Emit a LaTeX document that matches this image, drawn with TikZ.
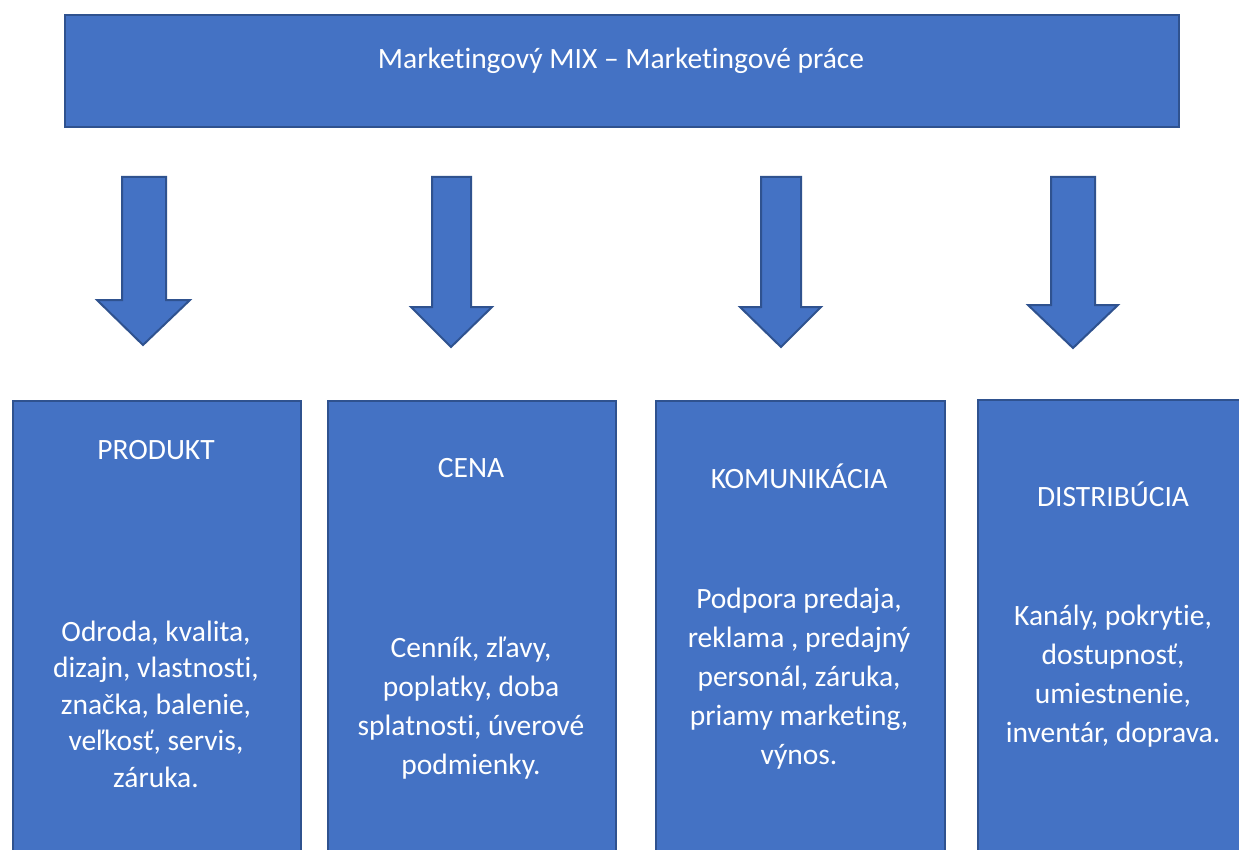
\documentclass[tikz,border=0pt]{standalone}
\usepackage{fontspec}
\setmainfont{Carlito}[Ligatures=NoCommon]
\definecolor{boxfill}{HTML}{4472C4}
\definecolor{boxline}{HTML}{2F528F}
\tikzset{
  blk/.style={fill=boxfill, draw=boxline, line width=2pt},
  lbl/.style={text=white, font=\fontsize{29.5}{39}\selectfont, inner sep=0pt},
  body/.style={lbl, align=center},
}
\begin{document}
\begin{tikzpicture}[x=1pt,y=-1pt]
\clip (0,0) rectangle (1239,850);
\fill[white] (0,0) rectangle (1239,850);
% top box
\node[blk, anchor=north west, minimum width=1114pt, minimum height=112pt, inner sep=0pt] (top) at (64,14) {};
\node[lbl, anchor=base] (toptxt) at (621,69) {Marketingový MIX – Marketingové práce};
% arrows
\draw[blk, line join=miter] (122,177) -- (166,177) -- (166,300) -- (190,300) -- (143,345) -- (97,300) -- (122,300) -- cycle;
\draw[blk, line join=miter] (432,177) -- (471,177) -- (471,307) -- (492,307) -- (451,347) -- (411,307) -- (432,307) -- cycle;
\draw[blk, line join=miter] (761,177) -- (801,177) -- (801,307) -- (821,307) -- (781,347) -- (740,307) -- (761,307) -- cycle;
\draw[blk, line join=miter] (1051,177) -- (1095,177) -- (1095,305) -- (1118,305) -- (1073,348) -- (1028,305) -- (1051,305) -- cycle;
% boxes
\node[blk, anchor=north west, minimum width=288pt, minimum height=470pt, inner sep=0pt] (produkt) at (12,400) {};
\node[blk, anchor=north west, minimum width=288pt, minimum height=470pt, inner sep=0pt] (cena) at (327,400) {};
\node[blk, anchor=north west, minimum width=289pt, minimum height=470pt, inner sep=0pt] (komunikacia) at (655,400) {};
\node[blk, anchor=north west, minimum width=290pt, minimum height=470pt, inner sep=0pt] (distribucia) at (977,399) {};
% headings
\node[lbl, anchor=base] (h1) at (156,459) {PRODUKT};
\node[lbl, anchor=base] (h2) at (471,477) {CENA};
\node[lbl, anchor=base] (h3) at (799,488) {KOMUNIKÁCIA};
\node[lbl, anchor=base] (h4) at (1113,506) {DISTRIBÚCIA};
% bodies
\node[body, font=\fontsize{29.5}{36.5}\selectfont] (b1) at (156,704) {Odroda, kvalita,\\dizajn, vlastnosti,\\značka, balenie,\\veľkosť, servis,\\záruka.};
\node[body] (b2) at (471,708) {Cenník, zľavy,\\poplatky, doba\\splatnosti, úverové\\podmienky.};
\node[body] (b3) at (799,679) {Podpora predaja,\\reklama , predajný\\personál, záruka,\\priamy marketing,\\výnos.};
\node[body] (b4) at (1113,676) {Kanály, pokrytie,\\dostupnosť,\\umiestnenie,\\inventár, doprava.};
\end{tikzpicture}
\end{document}
